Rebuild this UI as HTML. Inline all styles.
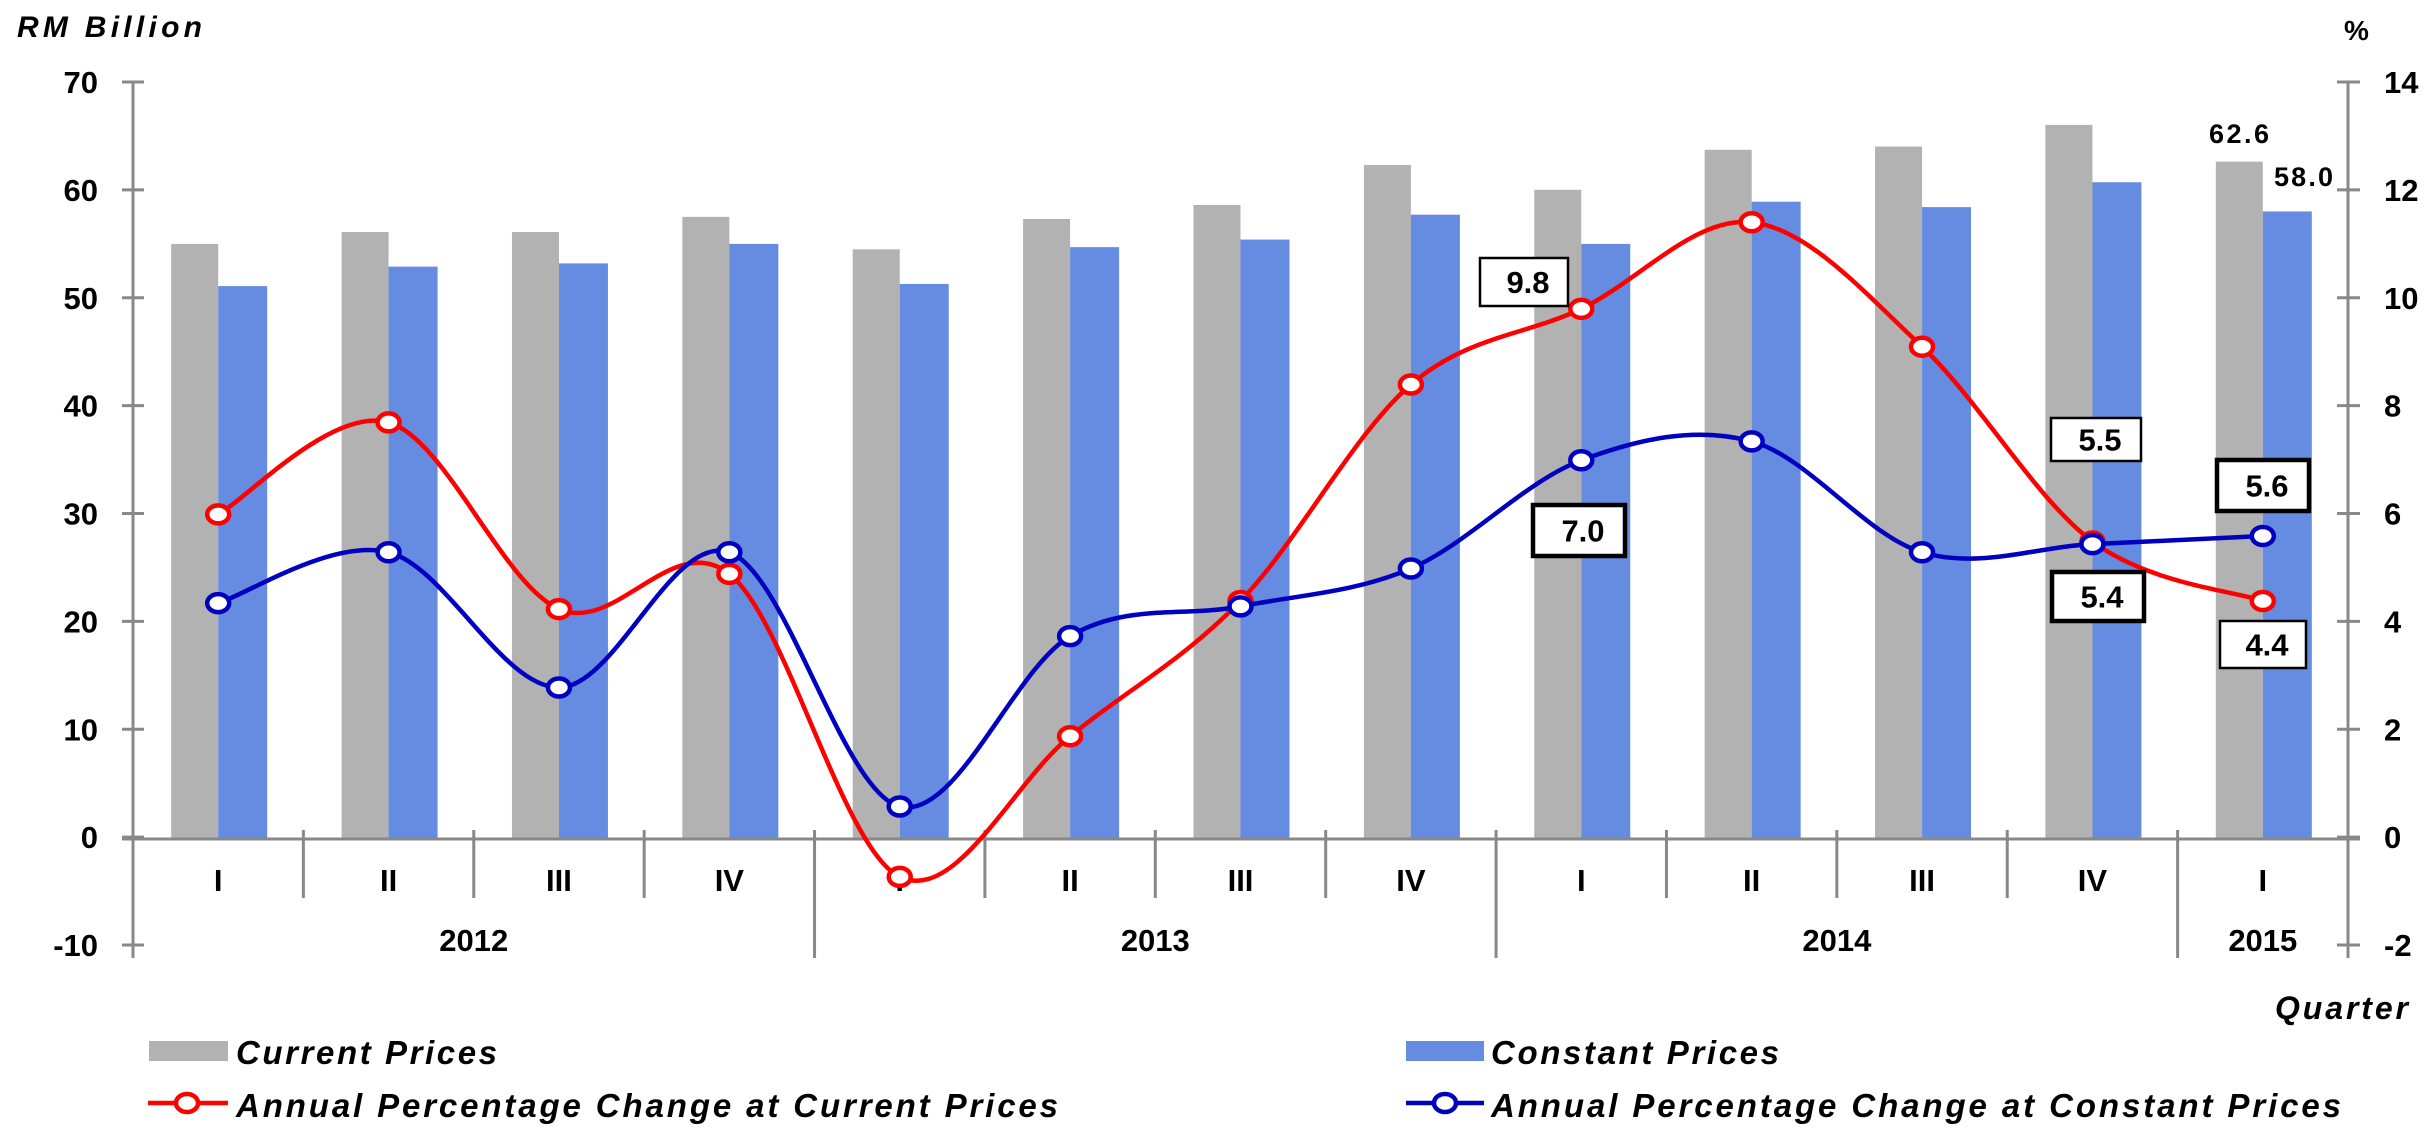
<!DOCTYPE html>
<html><head><meta charset="utf-8"><style>
html,body{margin:0;padding:0;background:#fff;}
svg{display:block;}
text{font-family:"Liberation Sans",Arial,sans-serif;font-weight:bold;fill:#000;}
</style></head><body>
<svg id="c" width="2436" height="1137" viewBox="0 0 2436 1137" xmlns="http://www.w3.org/2000/svg"></svg>
<script>
const s=document.getElementById('c');let h='';
const X0=133,X1=2348,W=(X1-X0)/13,Y0=839,PU=10.82,PP=54.1;
const cx=i=>X0+W/2+i*W, yl=v=>Y0-v*PU, yp=p=>Y0-p*PP;
const cur=[55,56.1,56.1,57.5,54.5,57.3,58.6,62.3,60,63.7,64,66,62.6];
const con=[51.1,52.9,53.2,55,51.3,54.7,55.4,57.7,55,58.9,58.4,60.7,58.0];
const pc=[6.0,7.7,4.25,4.9,-0.7,1.9,4.4,8.4,9.8,11.4,9.1,5.5,4.4];
const pk=[4.36,5.3,2.8,5.3,0.6,3.75,4.3,5.0,7.0,7.35,5.3,5.45,5.6];
for(let i=0;i<13;i++){const c=cx(i);
h+=`<rect x="${c-47}" y="${yl(cur[i])}" width="47" height="${Y0-yl(cur[i])}" fill="#b2b2b2"/>`;
h+=`<rect x="${c}" y="${yl(con[i])}" width="49" height="${Y0-yl(con[i])}" fill="#668ce2"/>`;}
const g='#888';
h+=`<line x1="${X0}" y1="82" x2="${X0}" y2="958" stroke="${g}" stroke-width="3"/>`;
h+=`<line x1="${X1}" y1="82" x2="${X1}" y2="958" stroke="${g}" stroke-width="3"/>`;
h+=`<line x1="${X0-11}" y1="${Y0}" x2="${X1+12}" y2="${Y0}" stroke="${g}" stroke-width="3"/>`;
for(let k=0;k<9;k++){const y=82+k*(945-82)/8;
h+=`<line x1="${X0-11}" y1="${y}" x2="${X0+11}" y2="${y}" stroke="${g}" stroke-width="3"/>`;
h+=`<line x1="${X1-11}" y1="${y}" x2="${X1+12}" y2="${y}" stroke="${g}" stroke-width="3"/>`;
h+=`<text x="98" y="${y+11}" font-size="31" text-anchor="end">${70-10*k}</text>`;
h+=`<text x="2384" y="${y+11}" font-size="31">${14-2*k}</text>`;}
for(let i=1;i<13;i++){const x=X0+i*W;const yr=(i%4==0)?958:898;
h+=`<line x1="${x}" y1="830" x2="${x}" y2="${yr}" stroke="${g}" stroke-width="3"/>`;}
const Q=['I','II','III','IV'];
for(let i=0;i<13;i++)h+=`<text x="${cx(i)}" y="891" font-size="31" text-anchor="middle">${Q[i%4]}</text>`;
const yrs=[['2012',X0+2*W],['2013',X0+6*W],['2014',X0+10*W],['2015',cx(12)]];
yrs.forEach(a=>h+=`<text x="${a[1]}" y="951" font-size="31" text-anchor="middle">${a[0]}</text>`);
function path(arr){const p=arr.map((v,i)=>[cx(i),yp(v)]);let d=`M${p[0][0]},${p[0][1]}`;
for(let i=0;i<p.length-1;i++){const p0=p[Math.max(0,i-1)],p1=p[i],p2=p[i+1],p3=p[Math.min(p.length-1,i+2)];
const c1=[p1[0]+(p2[0]-p0[0])/6,p1[1]+(p2[1]-p0[1])/6],c2=[p2[0]-(p3[0]-p1[0])/6,p2[1]-(p3[1]-p1[1])/6];
d+=` C${c1[0]},${c1[1]} ${c2[0]},${c2[1]} ${p2[0]},${p2[1]}`;}return d;}
function series(arr,col){h+=`<path d="${path(arr)}" fill="none" stroke="${col}" stroke-width="4.5"/>`;
arr.forEach((v,i)=>h+=`<ellipse cx="${cx(i)}" cy="${yp(v)}" rx="11" ry="9" fill="#fff" stroke="${col}" stroke-width="4.5"/>`);}
series(pc,'#ff0000');series(pk,'#0000c0');
function box(x1,y1,x2,y2,t,sw){h+=`<rect x="${x1}" y="${y1}" width="${x2-x1}" height="${y2-y1}" fill="#fff" stroke="#000" stroke-width="${sw}"/>`;
h+=`<text x="${(x1+x2)/2+4}" y="${(y1+y2)/2+11}" font-size="31" text-anchor="middle">${t}</text>`;}
box(1480,258,1568,306,'9.8',2.5);box(1533,505,1625,556,'7.0',4.5);
box(2051,418,2141,461,'5.5',2.5);box(2217,460,2309,511,'5.6',4.5);
box(2052,572,2144,621,'5.4',4.5);box(2220,621,2306,668,'4.4',2.5);
h+=`<text x="2209" y="143" font-size="27" textLength="60">62.6</text>`;
h+=`<text x="2274" y="186" font-size="27" textLength="59">58.0</text>`;
h+=`<text x="17" y="37" font-size="30" font-style="italic" textLength="185">RM Billion</text>`;
h+=`<text x="2344" y="40" font-size="28">%</text>`;
h+=`<text x="2275" y="1019" font-size="32" font-style="italic" textLength="133">Quarter</text>`;
h+=`<rect x="149" y="1041" width="79" height="20" fill="#b2b2b2"/>`;
h+=`<text x="236" y="1064" font-size="33" font-style="italic" textLength="261">Current Prices</text>`;
h+=`<rect x="1406" y="1041" width="78" height="20" fill="#668ce2"/>`;
h+=`<text x="1491" y="1064" font-size="33" font-style="italic" textLength="288">Constant Prices</text>`;
h+=`<line x1="148" y1="1103" x2="228" y2="1103" stroke="#ff0000" stroke-width="4.5"/><ellipse cx="187" cy="1103" rx="11" ry="9" fill="#fff" stroke="#ff0000" stroke-width="4.5"/>`;
h+=`<text x="236" y="1117" font-size="33" font-style="italic" textLength="822">Annual Percentage Change at Current Prices</text>`;
h+=`<line x1="1406" y1="1103" x2="1484" y2="1103" stroke="#0000c0" stroke-width="4.5"/><ellipse cx="1445" cy="1103" rx="11" ry="9" fill="#fff" stroke="#0000c0" stroke-width="4.5"/>`;
h+=`<text x="1491" y="1117" font-size="33" font-style="italic" textLength="850">Annual Percentage Change at Constant Prices</text>`;
s.innerHTML=h;
</script>
</body></html>
